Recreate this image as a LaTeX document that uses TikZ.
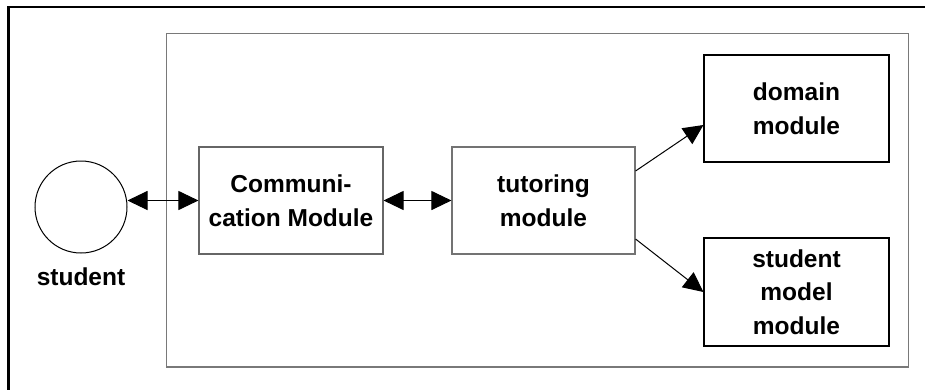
\documentclass[tikz,border=0pt]{standalone}
\usepackage{fontspec}
\setmainfont{Liberation Sans}
\usetikzlibrary{arrows.meta,calc}
\begin{document}
\begin{tikzpicture}[x=1pt,y=-1pt,
  lbl/.style={font=\fontsize{24.5}{33.5}\selectfont\bfseries, align=center},
  modbox/.style={draw=#1, line width=1.1pt, inner sep=0pt, lbl},
  conn/.style={line width=1pt, {Triangle[length=20pt,width=19pt]}-{Triangle[length=20pt,width=19pt]}},
  oneway/.style={line width=1pt, -{Triangle[length=20pt,width=19pt]}}]
\useasboundingbox (0,0) rectangle (925,389);
\clip (0,0) rectangle (925,389);
% outer frame (only left and top edges are inside the picture)
\draw[line width=2.2pt] (8.5,400) -- (8.5,7) -- (940,7);
% system frame
\draw[draw=gray!95!black, line width=1.2pt] (166.5,33.5) rectangle (908.5,367);
% student
\node[draw, circle, line width=1pt, minimum size=92pt, inner sep=0pt] (stu) at (81,207) {};
\node[lbl] (stulbl) at (81,277) {student};
% modules
\node[modbox=gray!80!black, minimum width=184pt, minimum height=107pt] (comm) at (291,200.5) {Communi-\\cation Module};
\node[modbox=gray!90!black, minimum width=183pt, minimum height=107pt] (tut) at (543.5,200.5) {tutoring\\module};
\node[modbox=black, minimum width=185pt, minimum height=107pt] (dom) at (796.5,108.5) {domain\\module};
\node[modbox=black, minimum width=185pt, minimum height=108pt] (smm) at (796.5,292) {student\\model\\module};
% connectors
\draw[conn] (comm.west -| stu.east) -- (comm.west);
\draw[conn] (comm.east) -- (tut.west);
\draw[oneway] ($(tut.east)+(0,-29.5)$) -- ($(dom.west)+(0,16.5)$);
\draw[oneway] ($(tut.east)+(0,38.5)$) -- (smm.west);
\end{tikzpicture}
\end{document}
